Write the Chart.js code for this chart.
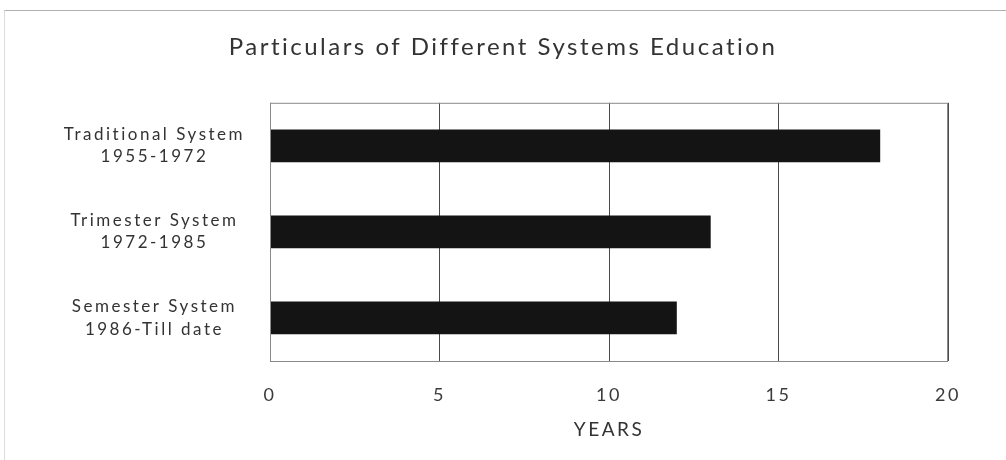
<!DOCTYPE html>
<html>
<head>
<meta charset="utf-8">
<script src="https://cdn.jsdelivr.net/npm/chart.js@4"></script>
<style>
  html, body { margin: 0; padding: 0; background: #fff; }
  #wrap { position: relative; width: 1006px; height: 460px; }
  #frame { position: absolute; left: 4px; top: 10px; right: 0; bottom: 0;
           border-top: 1px solid #b0b0b0; border-left: 1px solid #dcdcdc; }
  canvas { position: absolute; left: 0; top: 0; }
</style>
</head>
<body>
<div id="wrap">
  <div id="frame"></div>
  <canvas id="systems_chart" width="1006" height="460"></canvas>
</div>
<script>
// categories (two lines each) and years spent in each system
var system_labels = [
    ['Traditional System', '1955-1972'],
    ['Trimester System', '1972-1985'],
    ['Semester System', '1986-Till date']
]
var system_years = [18, 13, 12]
var year_ticks = [0, 5, 10, 15, 20]

var font_name = 'Lato, "Open Sans", sans-serif'

// the scanned original has loose, wide lettering
const wideText = {
    id: 'wideText',
    beforeLayout(chart) { chart.ctx.letterSpacing = '2.5px' },
    beforeDraw(chart) { chart.ctx.letterSpacing = '2.5px' }
}

// plain box around the plot area
const plotFrame = {
    id: 'plotFrame',
    afterDraw(chart) {
        const a = chart.chartArea
        const ctx = chart.ctx
        ctx.save()
        ctx.strokeStyle = '#8a8a8a'
        ctx.lineWidth = 1
        ctx.strokeRect(a.left + 0.5, a.top + 0.5, a.right - a.left - 1, a.bottom - a.top)
        ctx.restore()
    }
}

const data = {
    labels: system_labels,
    datasets: [{
        label: 'Years',
        data: system_years,
        backgroundColor: '#141414',
        borderWidth: 0,
        barPercentage: 0.38,
        categoryPercentage: 1.0
    }]
}

const config = {
    type: 'bar',
    data: data,
    plugins: [wideText, plotFrame],
    options: {
        indexAxis: 'y',
        responsive: false,
        animation: false,
        layout: { padding: { left: 0, right: 0, top: 0, bottom: 10 } },
        plugins: {
            legend: { display: false },
            tooltip: { enabled: false },
            title: {
                display: true,
                text: 'Particulars of Different Systems Education',
                color: '#333',
                font: { family: font_name, size: 24, weight: 'normal' },
                padding: { top: 33, bottom: 41 }
            }
        },
        scales: {
            x: {
                min: 0,
                max: 20,
                afterBuildTicks: function (scale) {
                    scale.ticks = year_ticks.map(function (v) { return { value: v } })
                },
                afterFit: function (scale) { scale.height = 89 },
                grid: { color: '#4a4a4a', drawTicks: false },
                border: { display: false },
                ticks: {
                    color: '#3a3a3a',
                    padding: 23,
                    font: { family: font_name, size: 18 }
                },
                title: {
                    display: true,
                    text: 'YEARS',
                    color: '#333',
                    font: { family: font_name, size: 19 },
                    padding: { top: 0, bottom: 9 }
                }
            },
            y: {
                afterFit: function (scale) { scale.width = 270 },
                grid: { display: false },
                border: { display: false },
                ticks: {
                    crossAlign: 'center',
                    color: '#333',
                    padding: 17,
                    font: { family: font_name, size: 17, lineHeight: 1.3 }
                }
            },
            // empty right-hand margin so the plot stops short of the page edge
            margin: {
                type: 'linear',
                position: 'right',
                afterFit: function (scale) { scale.width = 58 },
                grid: { display: false },
                border: { display: false },
                ticks: { display: false }
            }
        }
    }
}

const myChart = new Chart(document.getElementById('systems_chart'), config)
</script>
</body>
</html>
